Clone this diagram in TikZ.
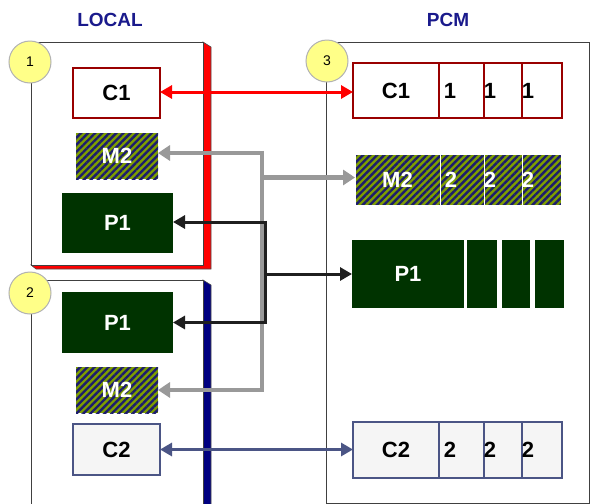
\documentclass[tikz,border=0pt]{standalone}
\usepackage{fontspec}
\setmainfont{Liberation Sans}
\usetikzlibrary{arrows.meta,patterns.meta,calc}
\definecolor{dgreen}{HTML}{003300}
\definecolor{hgreen}{HTML}{7E9E00}
\definecolor{hnavy}{HTML}{1C1C6E}
\definecolor{cred}{HTML}{990000}
\definecolor{cblue}{HTML}{4B5585}
\definecolor{tblue}{HTML}{1A1A8C}
\definecolor{circfill}{HTML}{FFFF88}
\definecolor{sidenavy}{HTML}{000080}
\tikzset{
  panel/.style={draw=black!75, line width=1pt, fill=white, anchor=north west, inner sep=0pt, outer sep=0pt},
  badge/.style={circle, fill=circfill, draw=black!30, line width=1pt, minimum size=42pt, inner sep=0pt, font=\fontsize{14}{14}\selectfont},
  cframe/.style={draw=#1, line width=2.5pt, inner sep=0pt, outer sep=0pt, font=\bfseries\fontsize{22}{22}\selectfont},
  pblock/.style={fill=dgreen, inner sep=0pt, outer sep=0pt, text=white, font=\bfseries\fontsize{22}{22}\selectfont},
  hatch/.style={preaction={fill=hgreen}, pattern={Lines[angle=45,distance=5pt,line width=2.4pt]}, pattern color=hnavy, inner sep=0pt, outer sep=0pt, text=white, font=\bfseries\fontsize{22}{22}\selectfont},
  celltext/.style={inner sep=0pt, font=\bfseries\fontsize{22}{22}\selectfont},
  title/.style={text=tblue, font=\bfseries\fontsize{19}{19}\selectfont},
  redarr/.style={draw=red, line width=3pt, {Triangle[length=12pt,width=13pt]}-{Triangle[length=12pt,width=13pt]}},
  grayarr/.style={draw=black!40, line width=4.5pt},
  blackarr/.style={draw=black!88, line width=3pt},
  bluearr/.style={draw=cblue, line width=3pt, {Triangle[length=12pt,width=13pt]}-{Triangle[length=12pt,width=13pt]}},
  gtip/.style={-{Triangle[length=12pt,width=15pt]}},
  btip/.style={-{Triangle[length=12pt,width=13pt]}}
}
\begin{document}
\begin{tikzpicture}[x=1pt,y=-1pt]
\useasboundingbox (0,0) rectangle (590,504);
\fill[white] (0,0) rectangle (590,504);

% titles
\node[title] (tLocal) at (110,20) {LOCAL};
\node[title] (tPCM) at (448,20) {PCM};

% panel 1 with red side
\fill[red, draw=black!70, line width=0.6pt] (203,42) -- (211,47) -- (211,269) -- (36,269) -- (31,265) -- (203,265) -- cycle;
\node[panel, minimum width=172pt, minimum height=223pt] (L1) at (31,42) {};
% panel 2 with navy side
\fill[sidenavy, draw=black!70, line width=0.6pt] (203,280) -- (211,285) -- (211,510) -- (203,510) -- cycle;
\node[panel, minimum width=172pt, minimum height=228pt] (L2) at (31,280) {};
% PCM panel
\node[panel, minimum width=263pt, minimum height=461pt] (PCM) at (326,42) {};

% badges
\node[badge] (b1) at (30,62) {1};
\node[badge] (b2) at (30,293) {2};
\node[badge] (b3) at (327,61) {3};

% local 1
\node[cframe=cred, fill=white, minimum width=87pt, minimum height=50pt] (C1L) at (116.5,93) {C1};
\node[hatch, minimum width=82pt, minimum height=46pt] (M2L) at (117,156) {M2};
\node[pblock, minimum width=111pt, minimum height=60pt] (P1L) at (117.5,223) {P1};
% local 2
\node[pblock, minimum width=111pt, minimum height=61pt] (P1L2) at (117.5,322.5) {P1};
\node[hatch, minimum width=82pt, minimum height=46pt] (M2L2) at (117,390) {M2};
\node[cframe=cblue, fill=black!4, minimum width=87pt, minimum height=51pt] (C2L) at (116.5,449.5) {C2};

% PCM C1 row
\node[cframe=cred, fill=white, minimum width=86pt, minimum height=55pt] (C1P) at (396,90.5) {C1};
\node[cframe=cred, minimum width=45pt, minimum height=55pt] (C1a) at (461.5,90.5) {};
\node[cframe=cred, minimum width=38pt, minimum height=55pt] (C1b) at (503,90.5) {};
\node[cframe=cred, minimum width=40pt, minimum height=55pt] (C1c) at (542,90.5) {};
\node[celltext] (C1ta) at (450,90.5) {1};
\node[celltext] (C1tb) at (490,90.5) {1};
\node[celltext] (C1tc) at (528,90.5) {1};

% PCM M2 row
\node[hatch, draw=white, line width=1pt, minimum width=85pt, minimum height=51pt] (M2P) at (397.5,179.5) {M2};
\node[hatch, draw=white, line width=1pt, minimum width=44pt, minimum height=51pt] (M2a) at (462,179.5) {};
\node[hatch, draw=white, line width=1pt, minimum width=38pt, minimum height=51pt] (M2b) at (503,179.5) {};
\node[hatch, draw=white, line width=1pt, minimum width=39pt, minimum height=51pt] (M2c) at (541.5,179.5) {};
\node[celltext, text=white] (M2ta) at (451,179.5) {2};
\node[celltext, text=white] (M2tb) at (490,179.5) {2};
\node[celltext, text=white] (M2tc) at (528,179.5) {2};

% PCM P1 row
\node[pblock, minimum width=112pt, minimum height=68pt] (P1P) at (408,274) {P1};
\node[pblock, minimum width=30pt, minimum height=68pt] (P1a) at (482,274) {};
\node[pblock, minimum width=28pt, minimum height=68pt] (P1b) at (516,274) {};
\node[pblock, minimum width=29pt, minimum height=68pt] (P1c) at (549.5,274) {};

% PCM C2 row
\node[cframe=cblue, fill=black!4, minimum width=86pt, minimum height=56pt] (C2P) at (396,450) {C2};
\node[cframe=cblue, fill=black!4, minimum width=45pt, minimum height=56pt] (C2a) at (461.5,450) {};
\node[cframe=cblue, fill=black!4, minimum width=38pt, minimum height=56pt] (C2b) at (503,450) {};
\node[cframe=cblue, fill=black!4, minimum width=40pt, minimum height=56pt] (C2c) at (542,450) {};
\node[celltext] (C2ta) at (450,450) {2};
\node[celltext] (C2tb) at (490,450) {2};
\node[celltext] (C2tc) at (528,450) {2};

% connectors
\coordinate (gx) at (262,0);
\coordinate (bx) at (265,0);
\coordinate (gtop) at ($(M2L.east -| gx)+(0,-3)$);
\coordinate (gbot) at (M2L2.east -| gx);
\draw[grayarr, line cap=butt] ($(gtop)+(0,-2.25)$) -- ($(gbot)+(0,2.25)$);
\draw[grayarr, gtip] (gtop) -- ($(M2L.east)+(0,-3)$);
\draw[grayarr, gtip] (gbot) -- (M2L2.east);
\draw[grayarr, gtip] ($(gx |- M2P.west)+(0,-2)$) -- ($(M2P.west)+(0,-2)$);

\coordinate (btop) at ($(P1L.east -| bx)+(0,-1)$);
\coordinate (bbot) at (P1L2.east -| bx);
\draw[blackarr] ($(btop)+(0,-1.5)$) -- ($(bbot)+(0,1.5)$);
\draw[blackarr, btip] (btop) -- ($(P1L.east)+(0,-1)$);
\draw[blackarr, btip] (bbot) -- (P1L2.east);
\draw[blackarr, btip] (bx |- P1P.west) -- (P1P.west);

\draw[redarr] ($(C1L.east)+(0,-1)$) -- ($(C1L.east -| C1P.west)+(0,-1)$);
\draw[bluearr] (C2L.east) -- (C2L.east -| C2P.west);
\end{tikzpicture}
\end{document}
